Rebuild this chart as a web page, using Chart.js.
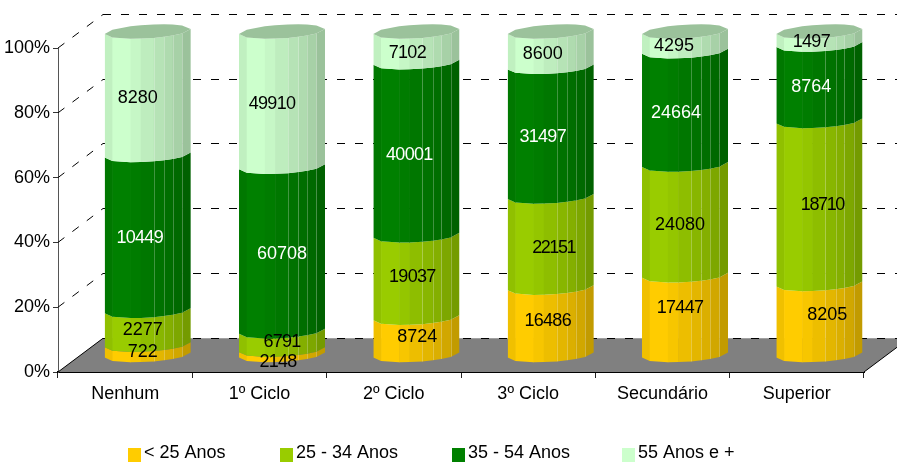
<!DOCTYPE html>
<html>
<head>
<meta charset="utf-8">
<style>
  html, body { margin: 0; padding: 0; background: #fff; overflow: hidden; }
  canvas { display: block; }
</style>
<script src="https://cdn.jsdelivr.net/npm/chart.js@4"></script>
</head>
<body>
<canvas id="chart" width="897" height="462"></canvas>
<script>
const categories = ["Nenhum", "1º Ciclo", "2º Ciclo", "3º Ciclo", "Secundário", "Superior"];
const seriesNames = ["< 25 Anos", "25 - 34 Anos", "35 - 54 Anos", "55 Anos e +"];
const under25 = [722, 2148, 8724, 16486, 17447, 8205];
const from25to34 = [2277, 6791, 19037, 22151, 24080, 18710];
const from35to54 = [10449, 60708, 40001, 31497, 24664, 8764];
const over55 = [8280, 49910, 7102, 8600, 4295, 1497];
const yTicks = [0, 20, 40, 60, 80, 100];

const seriesValues = [under25, from25to34, from35to54, over55];
const seriesColors = [[255, 204, 0], [153, 204, 0], [0, 128, 0], [204, 255, 204]];
const labelColors = ["#000", "#000", "#fff", "#000"];
const totals = categories.map((_, i) => seriesValues.reduce((s, v) => s + v[i], 0));

// the value labels sit a bit off centre in the original, one row per series
const labelShiftX = [
  [-5, -4, 1, -3, -5, 8],
  [-5, 0, -4, 3, -5, 3],
  [-8, 0, -7, -8, -9, -8],
  [-10, -10, -9, -8, -11, -8]
];
const labelShiftY = [
  [-3, 5, -4, -5, -12, -9],
  [-3, -3, -5, 1, 0, -2],
  [0, 0, 1, 0, 0, -1],
  [0, 0, 1, 0, 0, -1]
];

// 3d look: depth of the box, and half of it for the middle of the cylinders
const depthX = 45, depthY = 33.7;
const midX = 22.5, midY = 16.5;
const facets = [0, 0.09, 0.3, 0.42, 0.57, 0.69, 0.79, 0.9, 1];
const shades = [0.94, 1, 0.97, 0.93, 0.89, 0.86, 0.82, 0.76];
const legendX = [128, 280, 452, 622];

function shade(rgb, f) {
  return `rgb(${rgb.map(c => Math.round(c * f)).join(",")})`;
}

// y of the front edge of a cylinder slice, t going from -1 to 1
function edgeY(yc, t, side) {
  return yc + side * 6.8 * Math.sqrt(Math.max(0, 1 - t * t)) - 2.5 * t;
}

function drawBox(ctx, chart) {
  const { left, right } = chart.chartArea;
  const y = chart.scales.y;
  const floorY = y.getPixelForValue(0);
  ctx.save();
  ctx.fillStyle = "#808080";
  ctx.beginPath();
  ctx.moveTo(left, floorY);
  ctx.lineTo(left + depthX, floorY - depthY);
  ctx.lineTo(right + depthX, floorY - depthY);
  ctx.lineTo(right, floorY);
  ctx.closePath();
  ctx.fill();

  ctx.strokeStyle = "#000";
  ctx.lineWidth = 1;
  ctx.setLineDash([8, 10]);
  yTicks.forEach(v => {
    const py = y.getPixelForValue(v);
    const backY = Math.floor(py - depthY) + 0.5;
    if (v > 0) {
      ctx.beginPath();
      ctx.moveTo(left, py);
      ctx.lineTo(left + depthX, backY);
      ctx.stroke();
    }
    ctx.beginPath();
    ctx.moveTo(left + depthX, backY);
    ctx.lineTo(right + depthX, backY);
    ctx.stroke();
  });
  ctx.setLineDash([]);
  ctx.beginPath();
  ctx.moveTo(left, floorY);
  ctx.lineTo(left + depthX, floorY - depthY);
  ctx.moveTo(right, floorY);
  ctx.lineTo(right + depthX, floorY - depthY);
  ctx.stroke();
  ctx.restore();
}

function drawSlice(ctx, bar, color) {
  const x0 = bar.x + midX - bar.width / 2;
  const yTop = bar.y - midY, yBase = bar.base - midY;
  ctx.save();
  ctx.beginPath();
  facets.forEach((f, k) => {
    const y = edgeY(yBase, f * 2 - 1, 1);
    k ? ctx.lineTo(x0 + f * bar.width, y) : ctx.moveTo(x0 + f * bar.width, y);
  });
  facets.slice().reverse().forEach(f => {
    ctx.lineTo(x0 + f * bar.width, edgeY(yTop, f * 2 - 1, 1));
  });
  ctx.closePath();
  ctx.clip();
  shades.forEach((s, k) => {
    const a = x0 + facets[k] * bar.width, b = x0 + facets[k + 1] * bar.width;
    ctx.fillStyle = shade(color, s);
    ctx.fillRect(a, yTop - 20, b - a + 0.5, yBase - yTop + 40);
  });
  // faint seams between the facets
  ctx.strokeStyle = "rgba(255,255,255,0.25)";
  ctx.lineWidth = 1;
  facets.slice(4, 8).forEach(f => {
    const x = Math.round(x0 + f * bar.width) + 0.5;
    ctx.beginPath();
    ctx.moveTo(x, yTop - 20);
    ctx.lineTo(x, yBase + 20);
    ctx.stroke();
  });
  ctx.restore();
}

function drawCap(ctx, bar, color) {
  const x0 = bar.x + midX - bar.width / 2;
  const yc = bar.y - midY;
  ctx.fillStyle = shade(color, 0.76);
  ctx.beginPath();
  facets.forEach((f, k) => {
    const y = edgeY(yc, f * 2 - 1, 1);
    k ? ctx.lineTo(x0 + f * bar.width, y) : ctx.moveTo(x0 + f * bar.width, y);
  });
  facets.slice().reverse().forEach(f => {
    ctx.lineTo(x0 + f * bar.width, edgeY(yc, f * 2 - 1, -1));
  });
  ctx.closePath();
  ctx.fill();
}

const cylinderPlugin = {
  id: "cylinders",
  beforeDatasetsDraw(chart) {
    const ctx = chart.ctx;
    drawBox(ctx, chart);
    const metas = seriesValues.map((_, s) => chart.getDatasetMeta(s));
    categories.forEach((_, i) => {
      metas.forEach((meta, s) => drawSlice(ctx, meta.data[i], seriesColors[s]));
      drawCap(ctx, metas[metas.length - 1].data[i], seriesColors[seriesColors.length - 1]);
    });
  },
  beforeDatasetDraw() {
    return false; // the plain rectangles are replaced by the cylinders above
  },
  afterDraw(chart) {
    const ctx = chart.ctx;
    ctx.save();
    ctx.textAlign = "center";
    ctx.textBaseline = "middle";
    ctx.font = "18px 'Liberation Sans'";
    seriesValues.forEach((values, s) => {
      const meta = chart.getDatasetMeta(s);
      values.forEach((v, i) => {
        const bar = meta.data[i];
        const text = String(v);
        // the original squeezes the digit 1 against its neighbours
        ctx.letterSpacing = -0.7 * (text.split("1").length - 1) + "px";
        ctx.fillStyle = labelColors[s];
        ctx.fillText(text, bar.x + midX + labelShiftX[s][i],
          (bar.y + bar.base) / 2 - midY + 5 + labelShiftY[s][i]);
      });
    });
    // legend
    ctx.textAlign = "left";
    ctx.letterSpacing = "0px";
    seriesNames.forEach((name, s) => {
      ctx.fillStyle = shade(seriesColors[s], 1);
      ctx.fillRect(legendX[s], 448, 13, 14);
      ctx.fillStyle = "#000";
      ctx.fillText(name, legendX[s] + 16, 453);
    });
    ctx.restore();
  }
};

new Chart(document.getElementById("chart"), {
  type: "bar",
  data: {
    labels: categories,
    datasets: seriesValues.map((values, s) => ({
      label: seriesNames[s],
      data: values.map((v, i) => v / totals[i] * 100),
      backgroundColor: shade(seriesColors[s], 1),
      barPercentage: 0.64,
      categoryPercentage: 1
    }))
  },
  options: {
    responsive: false,
    animation: false,
    devicePixelRatio: 1,
    layout: { padding: { top: 48, right: 33, left: 0, bottom: 0 } },
    plugins: { legend: { display: false }, tooltip: { enabled: false } },
    scales: {
      x: {
        stacked: true,
        afterFit: scale => { scale.height = 90; },
        border: { color: "#000", width: 2 },
        grid: { drawOnChartArea: false, tickColor: "#222", tickLength: 6 },
        ticks: { color: "#000", font: { family: "Liberation Sans", size: 18 }, padding: 5, maxRotation: 0 }
      },
      y: {
        stacked: true,
        min: 0,
        max: 100,
        afterFit: scale => { scale.width = 58; },
        afterBuildTicks: scale => { scale.ticks = yTicks.map(value => ({ value })); },
        border: { color: "#555", width: 1 },
        grid: { drawOnChartArea: false, tickColor: "#333", tickLength: 5 },
        ticks: {
          color: "#000",
          padding: 3,
          font: { family: "Liberation Sans", size: 18 },
          callback: v => v + "%"
        }
      }
    }
  },
  plugins: [cylinderPlugin]
});
</script>
</body>
</html>
